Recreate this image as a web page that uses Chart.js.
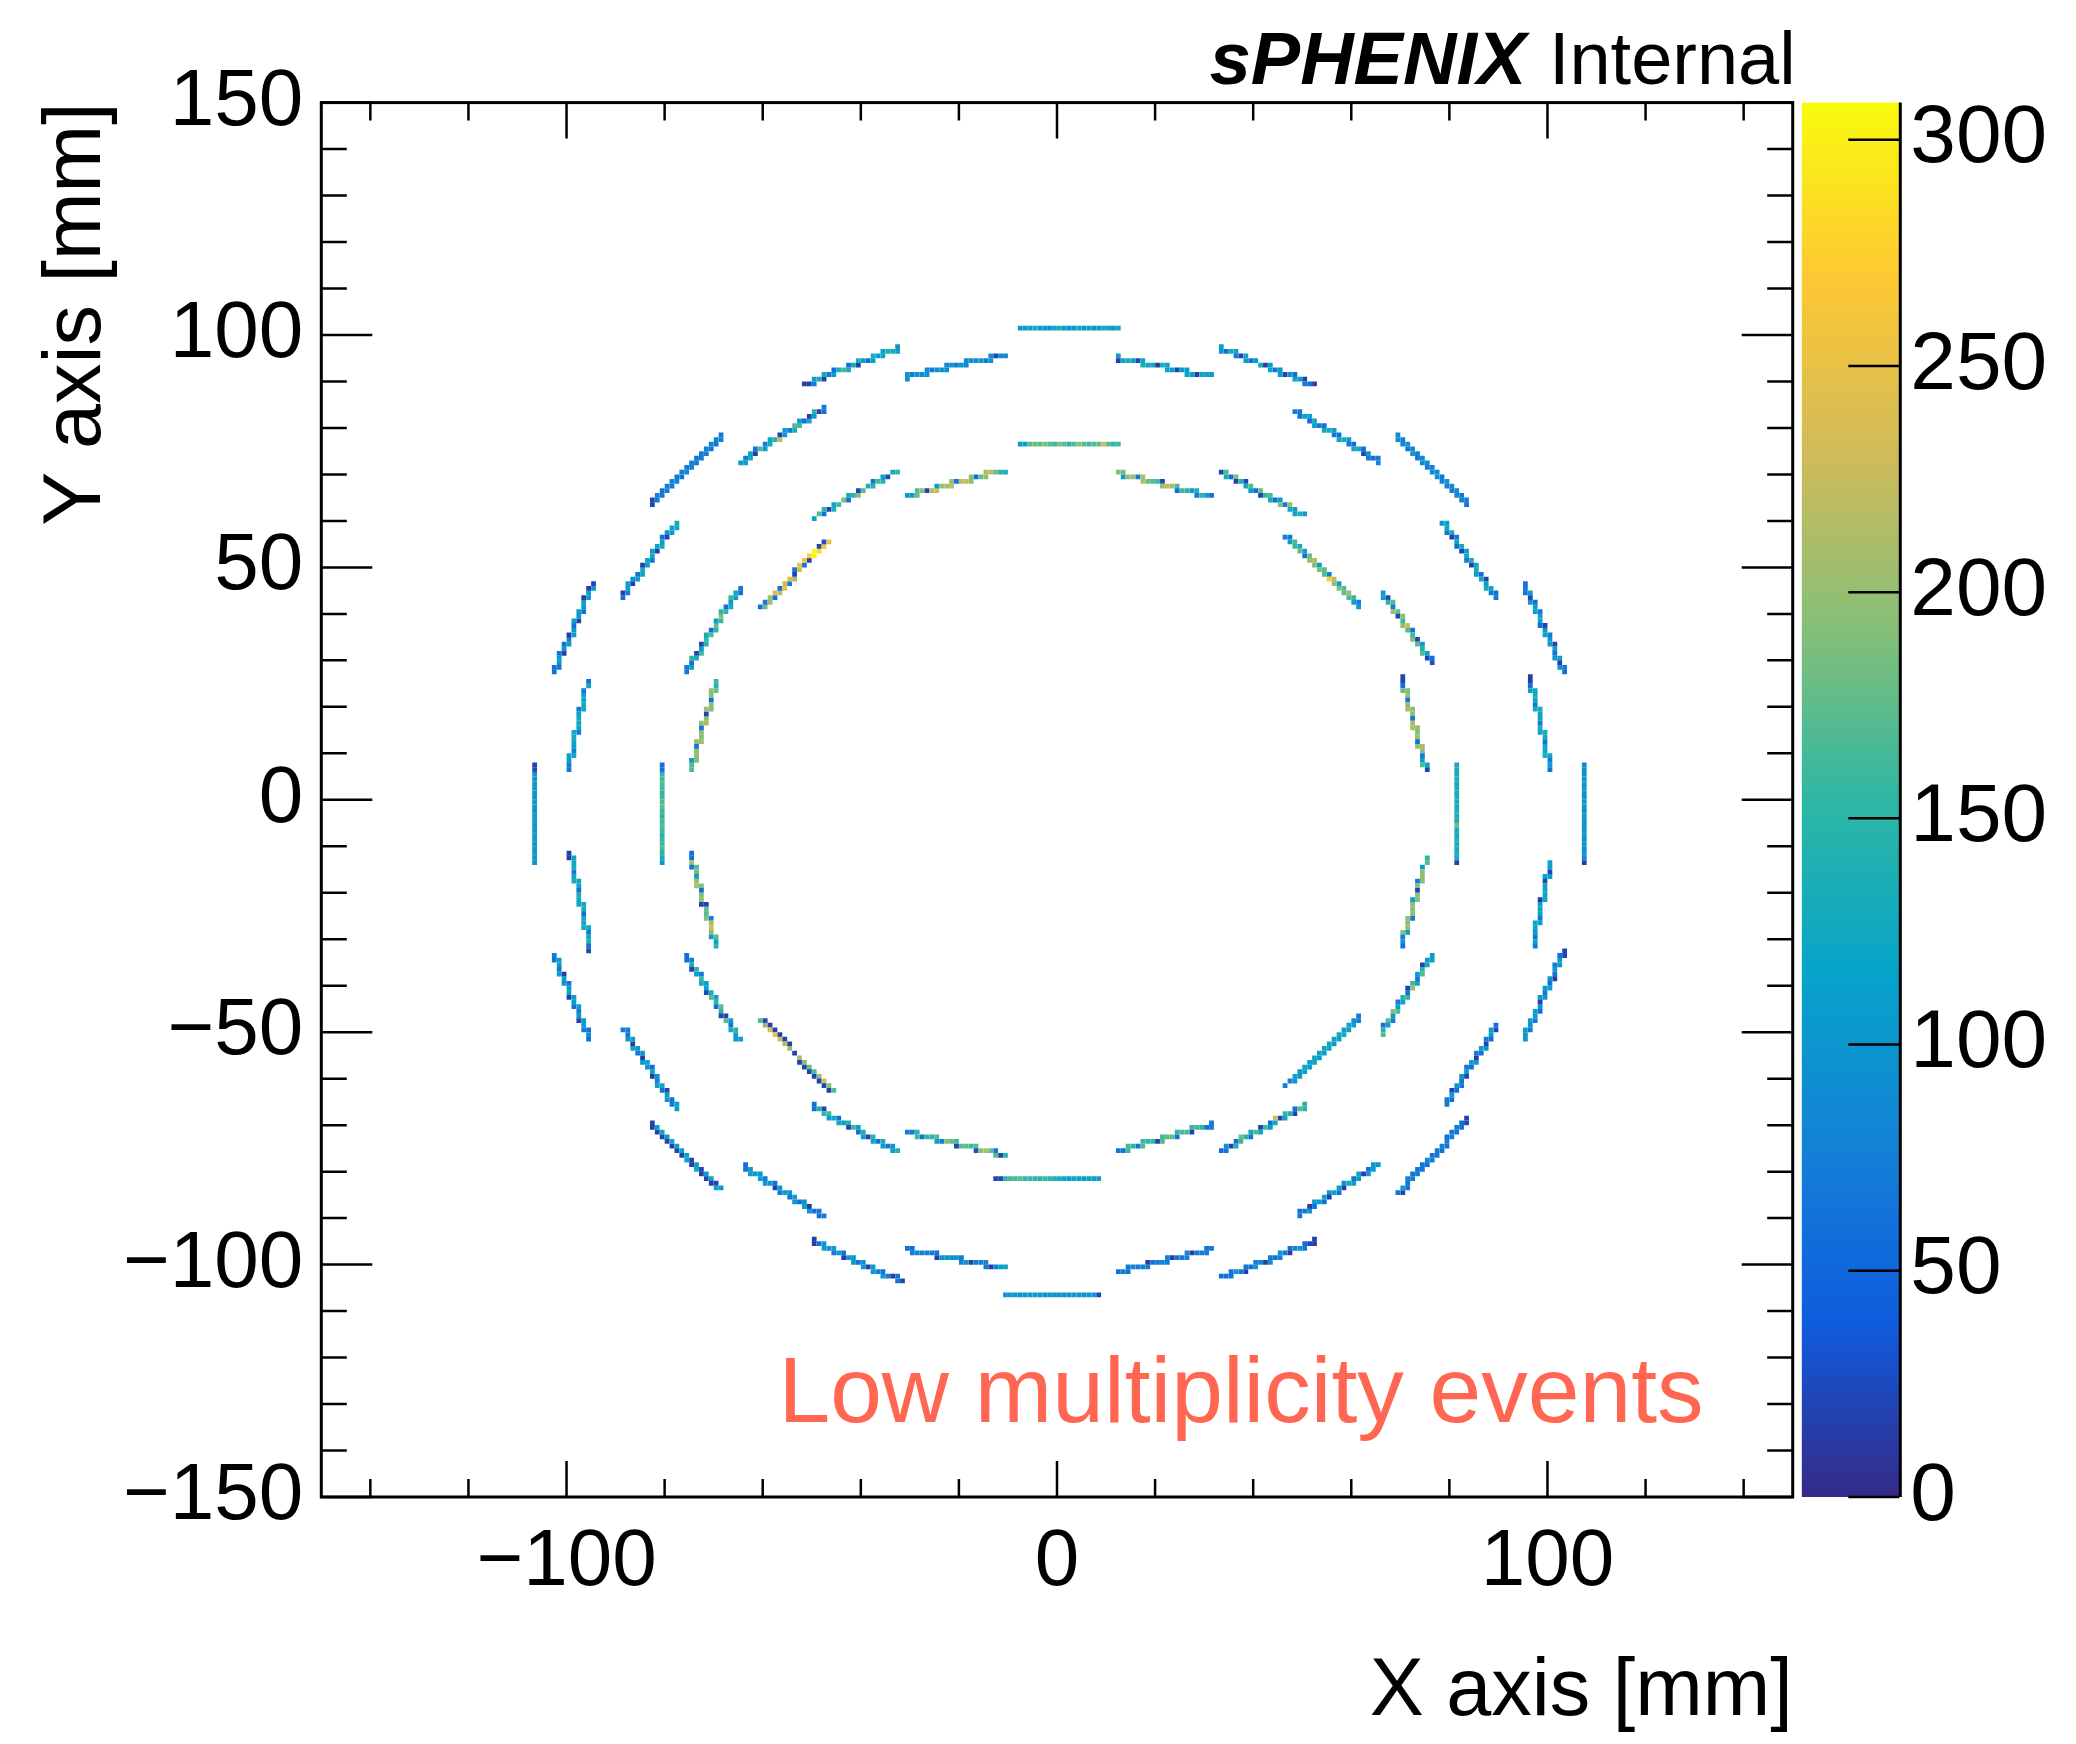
<!DOCTYPE html>
<html>
<head>
<meta charset="utf-8">
<title>sPHENIX INTT hit map</title>
<script src="https://cdn.jsdelivr.net/npm/chart.js@4.4.1/dist/chart.umd.min.js"></script>
<style>
  html, body { margin: 0; padding: 0; background: #ffffff; }
  #wrap { position: relative; width: 2076px; height: 1744px; }
  #wrap canvas { position: absolute; left: 0; top: 0; }
</style>
</head>
<body>
<div id="wrap">
  <canvas id="hitmap" width="2076" height="1744"></canvas>
  <canvas id="zbar" width="2076" height="1744"></canvas>
</div>
<script>
// ---------------- axes ----------------
const xLabelTicks = [-100, 0, 100];
const xMinorTicks = [-140, -120, -80, -60, -40, -20, 20, 40, 60, 80, 120, 140];
const yLabelTicks = [-150, -100, -50, 0, 50, 100, 150];
const yMinorTicks = [-140, -130, -120, -110, -90, -80, -70, -60, -40, -30, -20, -10,
                     10, 20, 30, 40, 60, 70, 80, 90, 110, 120, 130, 140];
const zTicks = [0, 50, 100, 150, 200, 250, 300];
const zMax = 308.2;

// ---------------- ladders: segment ends in mm [x0, y0, x1, y1] ----------------
const outerLadders = [
  [-7.5, 101.4, 12.2, 101.4], [12.3, 95.1, 31.2, 91.1], [33.6, 97.1, 52.0, 89.4],
  [48.7, 83.7, 65.7, 72.9], [69.5, 78.0, 83.8, 63.5], [78.7, 59.5, 89.8, 43.0],
  [95.2, 46.7, 103.3, 27.6], [96.5, 26.2, 100.6, 6.9], [107.0, 7.4, 107.0, -13.1],
  [100.6, -13.1, 97.1, -31.6], [103.3, -33.0, 95.2, -51.6], [89.8, -48.7, 79.0, -65.8],
  [83.8, -68.6, 69.5, -84.8], [65.5, -78.6, 49.3, -89.4], [52.6, -95.0, 33.6, -103.0],
  [31.2, -96.7, 12.3, -101.5], [-11.0, -107.0, 8.7, -107.0], [-30.9, -96.7, -11.0, -100.8],
  [-50.0, -95.0, -31.7, -103.6], [-64.0, -79.0, -47.4, -89.9], [-83.0, -69.5, -68.7, -83.7],
  [-88.4, -49.3, -77.6, -66.6], [-102.4, -33.6, -95.1, -52.0], [-99.2, -11.7, -95.1, -32.2],
  [-106.5, 7.4, -106.5, -13.1], [-99.7, 6.3, -95.6, 25.9], [-102.4, 27.6, -94.6, 46.7],
  [-88.9, 43.3, -77.6, 59.5], [-83.0, 63.8, -68.7, 78.0], [-65.0, 72.3, -47.4, 84.3],
  [-51.4, 89.4, -32.5, 97.1], [-30.9, 90.9, -11.0, 95.7]
];
const innerLadders = [
  [-7.5, 76.3, 12.2, 76.3], [12.3, 70.4, 31.2, 65.2], [33.0, 70.9, 50.6, 61.0],
  [46.5, 56.7, 61.4, 41.9], [66.3, 44.7, 76.3, 29.6], [70.3, 26.8, 75.4, 6.3],
  [81.4, 7.4, 81.4, -13.1], [75.4, -12.5, 70.3, -31.6], [76.3, -33.6, 66.3, -50.1],
  [61.4, -46.7, 46.5, -61.5], [50.6, -65.8, 33.0, -75.7], [31.2, -70.0, 12.3, -75.7],
  [-12.3, -82.0, 8.2, -82.0], [-30.9, -71.5, -11.0, -76.3], [-50.0, -65.8, -32.5, -75.7],
  [-60.6, -47.3, -46.0, -62.1], [-75.6, -33.6, -64.8, -51.6], [-74.8, -11.7, -69.4, -31.6],
  [-80.6, 7.4, -80.6, -13.1], [-74.8, 6.0, -69.4, 25.3], [-75.6, 27.6, -64.8, 45.3],
  [-60.6, 41.0, -46.6, 55.8], [-50.0, 60.4, -32.5, 70.9], [-30.9, 65.2, -11.0, 70.9]
];

// ---------------- hit counts along each ladder (start -> end) ----------------
const outerCounts = [
  [100,110,130,105,100,95,120,135,110,100,105,125,100,110,95,105,130,115,100,120],
  [105,15,125,130,110,20,120,135,125,130,15,130,125,120,110,20,105,110,120,115,15,120,110,105],
  [110,105,60,130,120,70,15,125,110,60,100,130,15,110,120,70,100,110,20,95,60,120,110,15,70,60,15],
  [70,65,110,120,60,130,110,70,65,125,130,110,70,60,120,130,110,70,60,125,115,60,20,110,70,60,70,75],
  [90,70,85,95,70,85,100,75,70,90,85,95,70,75,90,85,100,70,80,95,75,85,70,90,85,70,80,75,60],
  [105,110,120,60,130,15,70,120,60,130,20,110,125,70,135,15,120,130,110,60,125,20,110,130,120,70,60,65],
  [65,70,110,20,100,60,110,105,70,120,110,60,15,100,110,70,100,105,20,110,60,100,110,15,100,70,60],
  [15,60,120,125,130,120,70,125,130,120,125,70,130,120,125,130,65,125,120,130,120,70,110,60],
  [90,95,100,105,100,95,100,110,100,95,105,100,95,100,105,95,100,90,95,85,15],
  [110,115,20,110,115,20,120,125,110,120,15,110,120,115,70,110,120,115,105,60,110,70,65],
  [20,60,110,100,70,110,65,15,100,60,110,105,70,100,110,15,100,60,110,105,70,110,100,70,110,100,105],
  [60,20,110,100,60,70,20,100,110,60,70,15,105,110,60,70,110,20,100,60,70,110,60,20,105,60,70,65],
  [20,60,65,70,60,65,75,60,70,65,80,60,70,65,60,75,80,60,65,70,60,75,65,70,80,65,60,110,20,65],
  [100,110,60,110,15,120,105,60,110,125,100,15,110,60,120,100,15,110,60,105,110,60,15,100,70,60,65],
  [15,20,60,70,100,80,60,15,70,100,75,60,70,100,15,80,75,100,60,65,15,70,100,60,65,60,60],
  [65,70,75,70,15,80,75,70,65,15,75,70,80,70,65,15,70,75,70,80,65,60,70,60],
  [100,105,100,95,100,105,110,100,95,100,105,100,95,100,105,100,95,100,105,20],
  [60,70,80,75,80,70,60,15,100,105,95,100,70,75,100,15,70,80,75,70,15,75,110,120],
  [15,60,105,110,100,110,70,105,60,15,100,110,105,60,100,110,15,105,100,70,60,110,70,15,60,70,20],
  [60,100,110,105,100,110,70,100,105,60,15,100,70,110,100,70,110,105,60,100,110,15,100,60,70,60,70],
  [20,15,110,20,120,15,110,20,125,15,110,20,120,15,110,120,20,15,110,120,20,15,110,20,120,15,20,110,100],
  [70,60,100,110,15,120,100,70,110,15,110,120,100,60,110,15,100,70,110,120,60,20,110,100,60,70,110,105],
  [70,60,110,105,70,110,15,110,100,60,110,120,15,105,110,60,110,70,100,20,110,105,70,60,100,60],
  [15,120,125,130,70,130,135,120,125,60,135,130,125,130,60,130,125,135,120,70,125,130,60,20],
  [20,95,100,105,100,95,100,105,100,95,100,105,100,95,105,100,95,100,105,100,95],
  [65,70,110,120,125,70,115,120,130,125,70,120,125,130,115,70,125,130,120,110,70,120,60,65],
  [60,70,100,110,65,15,100,60,110,70,15,110,100,60,110,15,100,110,60,100,110,15,100,110,15,100,20],
  [60,15,70,110,120,15,100,110,60,120,130,15,110,120,70,125,110,15,120,130,110,60,20,100,110,120,125,130],
  [20,70,75,70,65,80,75,70,75,80,70,65,75,80,70,75,80,70,65,75,70,80,75,70,75,65,80,75,70],
  [110,70,130,120,15,60,170,110,70,130,120,140,220,15,110,70,130,170,160,110,60,130,15,110,150,20,60,70],
  [15,70,110,130,15,130,70,110,60,130,160,135,60,130,15,140,110,60,110,130,110,125,110,140,130,110,100],
  [100,70,95,90,95,90,70,95,100,95,90,100,70,95,90,85,95,90,100,70,95,90,20,85,80]
];
const innerCounts = [
  [110,170,180,175,190,170,160,185,175,150,170,190,175,160,170,180,230,170,150,160],
  [190,185,110,200,200,70,210,215,180,170,160,20,200,220,210,170,60,160,150,110,140,70,150,110,60],
  [20,170,130,60,190,15,140,20,130,170,110,60,180,20,150,170,130,60,110,190,70,200,130,110,120,140,110],
  [70,110,170,160,130,180,110,60,180,200,210,190,110,190,170,70,270,220,200,110,190,170,180,200,170,160,110,70,100],
  [105,20,150,170,70,200,180,20,190,160,200,230,170,60,160,190,20,170,110,140,170,110,20,60,30],
  [20,60,180,190,200,70,200,210,190,195,70,210,220,200,190,200,60,200,210,190,70,110,170,120,20],
  [130,135,140,130,135,130,140,135,130,140,135,130,185,135,130,140,135,130,135,130,20],
  [150,170,110,200,200,190,70,190,20,200,190,110,200,190,195,70,200,190,205,110,190,70,100,60],
  [110,100,130,20,150,170,110,70,120,160,200,20,60,150,120,70,110,170,190,110,70,170,110,60,150,170],
  [70,100,110,120,115,110,120,130,115,120,110,125,130,120,115,120,110,125,120,115,110,120,115,110,105,110,100,80,70],
  [150,170,60,20,140,160,120,20,230,130,60,110,160,20,120,170,130,60,140,180,160,60,140,20,100,70,60],
  [70,60,150,160,155,20,170,165,150,60,180,175,160,170,20,160,150,160,170,70,150,165,160,60,70],
  [20,150,160,165,170,155,160,150,145,160,150,140,130,120,110,120,115,110,120,115,110],
  [70,150,160,60,155,150,170,110,70,190,180,160,20,170,175,160,170,30,200,210,180,70,170,20,150],
  [60,140,20,150,160,110,130,60,130,110,140,20,160,120,60,130,110,20,150,120,60,130,110,70,100,110,140],
  [170,20,200,15,230,20,250,15,240,20,220,15,200,20,210,15,190,20,180,15,170,20,200,15,230,20,190,15,170,60],
  [60,70,130,20,150,110,70,160,130,110,20,140,170,110,150,60,180,150,20,170,110,60,130,150,110,100,110],
  [60,210,70,170,180,110,200,210,190,60,190,200,20,180,170,190,70,210,230,200,110,170,120,150],
  [60,150,160,170,165,150,160,170,175,160,150,165,170,160,150,155,160,165,150,130,100],
  [170,110,190,200,195,60,200,210,190,195,70,200,210,195,20,200,190,195,60,190,200,180,150,160],
  [70,110,60,150,130,20,160,110,20,150,130,170,60,150,180,110,160,190,150,60,130,110,160,110,130,60,70],
  [60,180,70,200,210,60,240,220,60,250,230,70,240,210,20,70,230,250,60,255,20,280,300,308,280,20,260,30,250],
  [110,170,60,150,20,140,120,160,110,190,60,130,150,190,20,170,140,110,150,60,160,140,110,20,130,150,140],
  [110,180,170,190,20,220,230,110,200,210,220,200,60,220,230,200,190,60,180,200,210,220,180,150,140]
];

// ---------------- text ----------------
const expName = 'sPHENIX';
const statusWord = 'Internal';
const noteText = 'Low multiplicity events';
const xTitle = 'X axis [mm]';
const yTitle = 'Y axis [mm]';

// ---------------- style ----------------
const FONT = '"Liberation Sans", Arimo, Arial, Helvetica, sans-serif';
const noteColor = 'rgb(255,103,82)';

// ROOT "bird" palette stops
const birdStops = [0.0000, 0.1250, 0.2500, 0.3750, 0.5000, 0.6250, 0.7500, 0.8750, 1.0000];
const birdRed   = [0.2082, 0.0592, 0.0780, 0.0232, 0.1802, 0.5301, 0.8186, 0.9956, 0.9764];
const birdGreen = [0.1664, 0.3599, 0.5041, 0.6419, 0.7178, 0.7492, 0.7328, 0.7862, 0.9832];
const birdBlue  = [0.5293, 0.8684, 0.8385, 0.7914, 0.6425, 0.4662, 0.3499, 0.1968, 0.0539];

function birdColor(f) {
  f = Math.max(0, Math.min(1, f));
  let i = 0;
  while (i < birdStops.length - 2 && f > birdStops[i + 1]) i++;
  const t = (f - birdStops[i]) / (birdStops[i + 1] - birdStops[i]);
  const c = a => Math.round(255 * (a[i] + t * (a[i + 1] - a[i])));
  return 'rgb(' + c(birdRed) + ',' + c(birdGreen) + ',' + c(birdBlue) + ')';
}

function fmt(v) {
  return v < 0 ? '\u2212' + Math.abs(v) : String(v);
}

// 1 mm histogram bins crossed by a ladder, each carrying the count read along it
function ladderCells(seg, counts) {
  const [x0, y0, x1, y1] = seg;
  const len = Math.hypot(x1 - x0, y1 - y0);
  const steps = Math.ceil(len / 0.02);
  const bins = [];
  let last = '';
  for (let s = 0; s <= steps; s++) {
    const t = s / steps;
    const bx = Math.floor(x0 + t * (x1 - x0));
    const by = Math.floor(y0 + t * (y1 - y0));
    const key = bx + ',' + by;
    if (key !== last) { bins.push([bx, by]); last = key; }
  }
  const n = bins.length, m = counts.length;
  return bins.map((b, k) => ({
    x: b[0] + 0.5,
    y: b[1] + 0.5,
    v: counts[Math.min(m - 1, Math.floor(k * m / n))]
  }));
}

const cells = [];
outerLadders.forEach((s, k) => cells.push(...ladderCells(s, outerCounts[k])));
innerLadders.forEach((s, k) => cells.push(...ladderCells(s, innerCounts[k])));

// ---------------- frame, inward ticks and labels on the hit map ----------------
const framePlugin = {
  id: 'rootFrame',
  afterDatasetsDraw(chart) {
    const { ctx, chartArea: a, scales: { x, y } } = chart;
    ctx.save();
    ctx.strokeStyle = '#000';
    ctx.lineWidth = 2.5;
    ctx.beginPath();
    const xt = (v, len) => {
      const p = x.getPixelForValue(v);
      ctx.moveTo(p, a.bottom); ctx.lineTo(p, a.bottom - len);
      ctx.moveTo(p, a.top); ctx.lineTo(p, a.top + len);
    };
    const yt = (v, len) => {
      const p = y.getPixelForValue(v);
      ctx.moveTo(a.left, p); ctx.lineTo(a.left + len, p);
      ctx.moveTo(a.right, p); ctx.lineTo(a.right - len, p);
    };
    xLabelTicks.forEach(v => xt(v, 36));
    xMinorTicks.forEach(v => xt(v, 18));
    yLabelTicks.forEach(v => yt(v, 51));
    yMinorTicks.forEach(v => yt(v, 25.5));
    ctx.stroke();
    ctx.lineWidth = 3;
    ctx.strokeRect(a.left, a.top, a.right - a.left, a.bottom - a.top);

    // experiment label above the frame
    ctx.fillStyle = '#000';
    ctx.textBaseline = 'alphabetic';
    ctx.textAlign = 'right';
    ctx.font = '74px ' + FONT;
    const right = a.right + 3;
    const base = a.top - 19;
    ctx.fillText(statusWord, right, base);
    const w = ctx.measureText(statusWord).width;
    ctx.font = 'italic bold 74px ' + FONT;
    ctx.fillText(expName + ' ', right - w - 2, base);

    // sample note inside the frame
    ctx.fillStyle = noteColor;
    ctx.textAlign = 'left';
    ctx.font = '93px ' + FONT;
    ctx.fillText(noteText, x.getPixelForValue(-56.8), y.getPixelForValue(-133.9));
    ctx.restore();
  }
};

const tickFont = { family: FONT, size: 80 };

new Chart(document.getElementById('hitmap'), {
  type: 'scatter',
  data: {
    datasets: [{
      data: cells,
      pointStyle: 'rect',
      pointBorderWidth: 0,
      pointRadius: ctx => {
        const sx = ctx.chart.scales.x, sy = ctx.chart.scales.y;
        const w = Math.abs(sx.getPixelForValue(1) - sx.getPixelForValue(0));
        const h = Math.abs(sy.getPixelForValue(1) - sy.getPixelForValue(0));
        return (w + h) / 4 / Math.SQRT1_2;
      },
      pointBackgroundColor: ctx => (ctx.raw ? birdColor(ctx.raw.v / zMax) : '#000')
    }]
  },
  options: {
    responsive: false,
    animation: false,
    devicePixelRatio: 1,
    events: [],
    layout: { padding: { left: 0, top: 102.6, right: 283.3, bottom: 0 } },
    plugins: { legend: { display: false }, tooltip: { enabled: false } },
    scales: {
      x: {
        type: 'linear', min: -150, max: 150, position: 'bottom',
        afterFit: s => { s.height = 247; },
        afterBuildTicks: s => { s.ticks = xLabelTicks.map(v => ({ value: v })); },
        ticks: { font: tickFont, color: '#000', padding: 10, maxRotation: 0, autoSkip: false, callback: v => fmt(v) },
        grid: { display: false },
        border: { display: false },
        title: { display: true, text: xTitle, align: 'end', color: '#000', font: { family: FONT, size: 81 }, padding: { top: 0, bottom: 3 } }
      },
      y: {
        type: 'linear', min: -150, max: 150, position: 'left',
        afterFit: s => { s.width = 321.3; },
        afterBuildTicks: s => { s.ticks = yLabelTicks.map(v => ({ value: v })); },
        ticks: { font: tickFont, color: '#000', padding: 10, autoSkip: false, callback: v => fmt(v) },
        grid: { display: false },
        border: { display: false },
        title: { display: true, text: yTitle, align: 'end', color: '#000', font: { family: FONT, size: 81 }, padding: { top: 29, bottom: 0 } }
      }
    }
  },
  plugins: [framePlugin]
});

// ---------------- colour scale ----------------
const zbarPlugin = {
  id: 'zbarTicks',
  afterDatasetsDraw(chart) {
    const { ctx, chartArea: a, scales: { y } } = chart;
    ctx.save();
    ctx.strokeStyle = '#000';
    ctx.lineWidth = 2.5;
    ctx.beginPath();
    zTicks.forEach(v => {
      const p = y.getPixelForValue(v);
      ctx.moveTo(a.right, p); ctx.lineTo(a.right - 51, p);
    });
    ctx.stroke();
    ctx.lineWidth = 3;
    ctx.beginPath();
    ctx.moveTo(a.right + 1, a.top); ctx.lineTo(a.right + 1, a.bottom);
    ctx.stroke();
    ctx.restore();
  }
};

function paletteGradient(chart) {
  const a = chart.chartArea;
  if (!a) return birdColor(0.5);
  const g = chart.ctx.createLinearGradient(0, a.bottom, 0, a.top);
  for (let i = 0; i <= 64; i++) g.addColorStop(i / 64, birdColor(i / 64));
  return g;
}

new Chart(document.getElementById('zbar'), {
  type: 'bar',
  data: {
    labels: [''],
    datasets: [{
      data: [[0, zMax]],
      backgroundColor: ctx => paletteGradient(ctx.chart),
      borderWidth: 0,
      barPercentage: 1,
      categoryPercentage: 1
    }]
  },
  options: {
    responsive: false,
    animation: false,
    devicePixelRatio: 1,
    events: [],
    layout: { padding: { left: 1801.7, top: 102.6, right: 0, bottom: 247 } },
    plugins: { legend: { display: false }, tooltip: { enabled: false } },
    scales: {
      x: { display: false },
      y: {
        position: 'right', min: 0, max: zMax,
        afterFit: s => { s.width = 2076 - 1899.3; },
        afterBuildTicks: s => { s.ticks = zTicks.map(v => ({ value: v })); },
        ticks: { font: { family: FONT, size: 82 }, color: '#000', padding: 3, autoSkip: false },
        grid: { display: false },
        border: { display: false }
      }
    }
  },
  plugins: [zbarPlugin]
});
</script>
</body>
</html>
